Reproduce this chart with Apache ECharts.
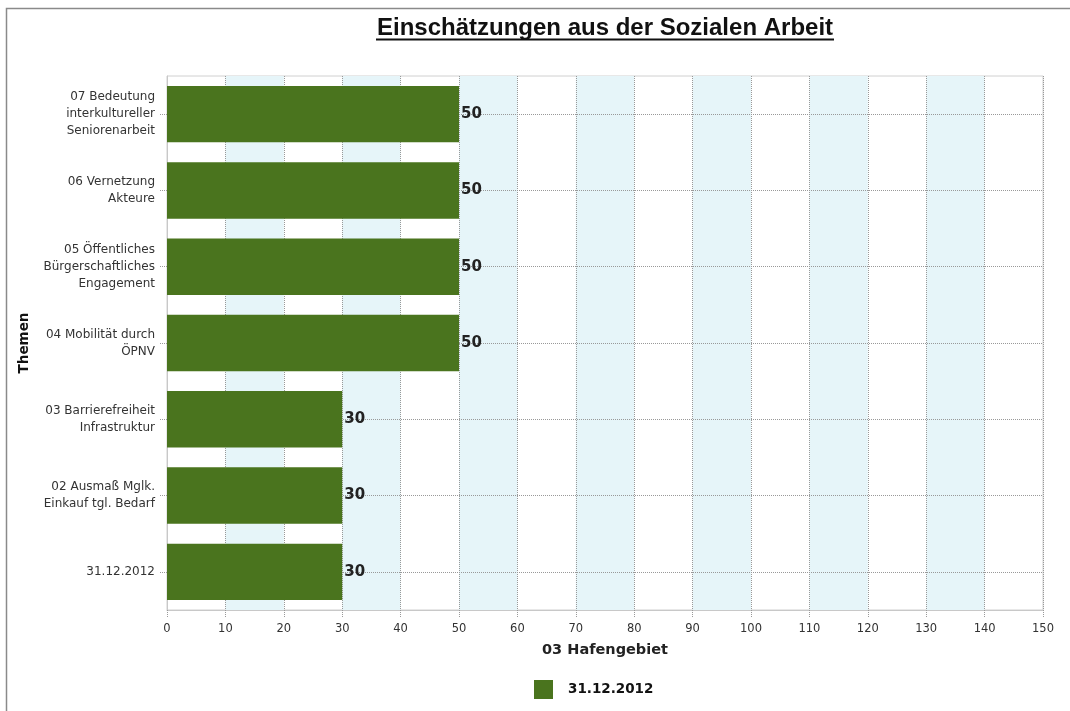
<!DOCTYPE html>
<html><head><meta charset="utf-8">
<script src="https://cdn.jsdelivr.net/npm/echarts@6/dist/echarts.min.js"></script>
<style>html,body{margin:0;padding:0;background:#fff}#c{width:1070px;height:711px}</style>
</head><body><div id="c"></div>
<script>
var categories = [
  "31.12.2012",
  "02 Ausmaß Mglk.\nEinkauf tgl. Bedarf",
  "03 Barrierefreiheit\nInfrastruktur",
  "04 Mobilität durch\nÖPNV",
  "05 Öffentliches\nBürgerschaftliches\nEngagement",
  "06 Vernetzung\nAkteure",
  "07 Bedeutung\ninterkultureller\nSeniorenarbeit"
];
var values = [30, 30, 30, 50, 50, 50, 50];
var seriesName = "31.12.2012";
var titleText = "Einschätzungen aus der Sozialen Arbeit";
var xName = "03 Hafengebiet";
var yName = "Themen";

var chart = echarts.init(document.getElementById('c'));
chart.setOption({
  animation: false,
  backgroundColor: '#fff',
  title: {
    text: titleText, left: 600, textAlign: 'center', top: 11,
    textStyle: { fontFamily: 'Liberation Sans', fontWeight: 'bold', fontSize: 24, color: '#111' }
  },
  graphic: [
    { type: 'line', shape: { x1: 376, y1: 39.5, x2: 834, y2: 39.5 }, style: { stroke: '#111', lineWidth: 2 } },
    { type: 'polyline', shape: { points: [[6.5, 720], [6.5, 8.5], [1080, 8.5]] }, style: { stroke: '#8a8a8a', lineWidth: 1.5, fill: null } }
  ],
  legend: {
    data: [seriesName], top: 675, left: 529,
    icon: 'rect', itemWidth: 19, itemHeight: 19, itemGap: 10,
    textStyle: { fontFamily: 'DejaVu Sans', fontWeight: 'bold', fontSize: 13.5, color: '#111', padding: [0, 0, 0, 10] }
  },
  grid: { left: 167, right: 27, top: 76, bottom: 101, show: true, borderColor: '#d0d0d0', borderWidth: 1, backgroundColor: 'transparent' },
  xAxis: {
    type: 'value', min: 0, max: 150, interval: 10,
    name: xName, nameLocation: 'middle', nameGap: 33,
    nameTextStyle: { fontFamily: 'DejaVu Sans', fontWeight: 'bold', fontSize: 14.5, color: '#222' },
    axisLine: { show: true, lineStyle: { color: '#c8c8c8' } },
    axisTick: { show: true, length: 8, lineStyle: { color: '#999', type: 'dotted' } },
    axisLabel: { fontFamily: 'DejaVu Sans', fontSize: 11.5, color: '#333', margin: 13 },
    splitLine: { show: true, lineStyle: { color: '#999', type: 'dotted' } },
    splitArea: { show: true, areaStyle: { color: ['rgba(255,255,255,0)', '#e6f5f9'] } }
  },
  yAxis: {
    type: 'category', data: categories,
    name: yName, nameLocation: 'middle', nameGap: 136, nameRotate: 90,
    nameTextStyle: { fontFamily: 'DejaVu Sans', fontWeight: 'bold', fontSize: 13.5, color: '#111' },
    axisLine: { show: true, lineStyle: { color: '#c8c8c8' } },
    axisTick: { show: true, alignWithLabel: true, length: 8, lineStyle: { color: '#999', type: 'dotted' } },
    axisLabel: { fontFamily: 'DejaVu Sans', fontSize: 12, color: '#333', margin: 12, lineHeight: 17, align: 'right' },
    splitLine: { show: false }
  },
  series: [{
    name: seriesName, type: 'bar', data: values, barWidth: '74%',
    itemStyle: { color: '#4a741e' },
    label: { show: true, position: 'right', distance: 2, fontFamily: 'DejaVu Sans', fontWeight: 'bold', fontSize: 15, color: '#222' },
    markLine: {
      silent: true, symbol: 'none', z: 1, label: { show: false },
      lineStyle: { color: '#999', type: 'dotted', width: 1 },
      data: categories.map(function (c) { return { yAxis: c }; })
    }
  }]
});
</script></body></html>
